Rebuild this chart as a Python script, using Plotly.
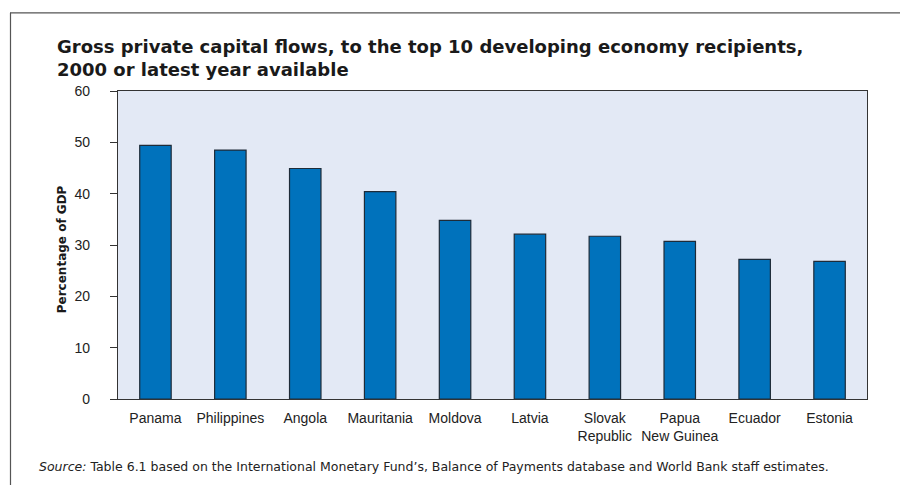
import plotly.graph_objects as go

countries = ["Panama", "Philippines", "Angola", "Mauritania", "Moldova", "Latvia",
             "Slovak<br>Republic", "Papua<br>New Guinea", "Ecuador", "Estonia"]
values = [49.4, 48.5, 44.9, 40.4, 34.8, 32.1, 31.7, 30.7, 27.2, 26.8]
y_ticks = [0, 10, 20, 30, 40, 50, 60]

W, H = 908, 485
OFF = 8  # page body margin
L, R, T, B = 118 - OFF, 867 - OFF, 91 - OFF, 399.5 - OFF

def px(x):
    return (x - OFF - L) / (R - L)

def py(y):
    return (B - (y - OFF)) / (B - T)

FONT = "Liberation Sans, Arial, sans-serif"
WIDE = "DejaVu Sans, sans-serif"

fig = go.Figure(go.Bar(
    x=countries, y=values,
    marker=dict(color="#0072BC", line=dict(color="#1E2B38", width=1.2)),
    width=0.42,
))

fig.update_layout(
    width=W, height=H,
    margin=dict(l=L, r=W - R, t=T, b=H - B, autoexpand=False),
    paper_bgcolor="white",
    plot_bgcolor="#E3E9F5",
    showlegend=False,
    title=dict(
        text="<b>Gross private capital flows, to the top 10 developing economy recipients,<br>2000 or latest year available</b>",
        font=dict(family=WIDE, size=18, color="#1a1a1a"),
        xref="container", yref="container",
        x=(57 - OFF) / W, xanchor="left", y=1 - 45 / H, yanchor="top",
    ),
    font=dict(family=FONT, color="#222"),
)

fig.update_xaxes(
    type="category", showgrid=False, showline=True, linecolor="#333", linewidth=1.2,
    mirror=True, ticks="", ticklen=0, tickfont=dict(size=14, color="#222", family=FONT),
    ticklabelstandoff=6, range=[-0.5, 9.5],
)
fig.update_yaxes(
    range=[0, 60], tickvals=y_ticks, showgrid=False, zeroline=False,
    showline=True, linecolor="#333", linewidth=1.2, mirror=True,
    ticks="outside", ticklen=7, tickcolor="#333", tickwidth=1,
    tickfont=dict(size=14, color="#222", family=FONT), ticklabelstandoff=17,
)

fig.add_annotation(
    text="<b>Percentage of GDP</b>", textangle=-90,
    xref="paper", yref="paper", x=px(61.5), y=py(250),
    xanchor="center", yanchor="middle", showarrow=False,
    font=dict(family=WIDE, size=12, color="#1a1a1a"),
)
fig.add_annotation(
    text="<i>Source:</i> Table 6.1 based on the International Monetary Fund’s, Balance of Payments database and World Bank staff estimates.",
    xref="paper", yref="paper", x=px(37), y=py(467),
    xanchor="left", yanchor="middle", showarrow=False,
    font=dict(family=WIDE, size=12.5, color="#222"),
)

# frame lines (top and left)
fig.add_shape(type="line", xref="paper", yref="paper",
              x0=px(10), x1=px(916), y0=py(12.7), y1=py(12.7),
              line=dict(color="#555", width=1.2))
fig.add_shape(type="line", xref="paper", yref="paper",
              x0=px(10.5), x1=px(10.5), y0=py(12.7), y1=py(493),
              line=dict(color="#555", width=1.2))

fig.write_html("out.html")
